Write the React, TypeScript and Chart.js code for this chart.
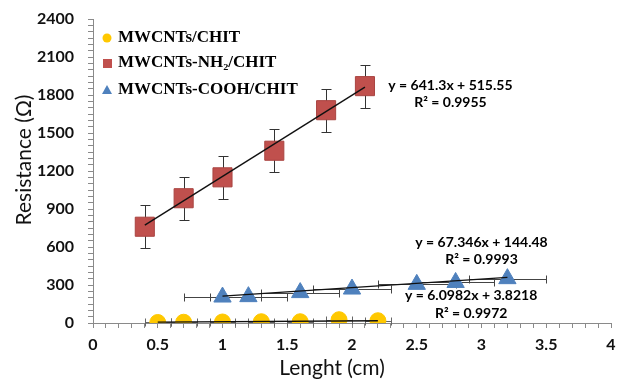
import React, { useEffect, useRef } from 'react';
import { Chart, registerables } from 'chart.js';

Chart.register(...registerables);

// ---- data ----
const seriesNames = ['MWCNTs/CHIT', 'MWCNTs-NH₂/CHIT', 'MWCNTs-COOH/CHIT'];

const chitX = [0.5, 0.7, 1.0, 1.3, 1.6, 1.9, 2.2];
const chitY = [4, 6, 8, 10, 10, 26, 18];
const chitXErr = [0.1, 0.1, 0.1, 0.1, 0.1, 0.1, 0.1];

const nh2X = [0.4, 0.7, 1.0, 1.4, 1.8, 2.1];
const nh2Y = [760, 985, 1150, 1360, 1680, 1870];
const nh2YErr = [170, 170, 170, 170, 170, 170];

const coohX = [1.0, 1.2, 1.6, 2.0, 2.5, 2.8, 3.2];
const coohY = [205, 208, 240, 268, 305, 320, 350];
const coohXErr = [0.3, 0.3, 0.3, 0.3, 0.3, 0.3, 0.3];

const trendSlope = [6.0982, 641.3, 67.346];
const trendIntercept = [3.8218, 515.55, 144.48];
const eqTexts = ['y = 6.0982x + 3.8218', 'y = 641.3x + 515.55', 'y = 67.346x + 144.48'];
const r2Texts = ['R² = 0.9972', 'R² = 0.9955', 'R² = 0.9993'];

const yTickLabels = ['0', '300', '600', '900', '1200', '1500', '1800', '2100', '2400'];
const xTickLabels = ['0', '0.5', '1', '1.5', '2', '2.5', '3', '3.5', '4'];

const colors = ['#FFC800', '#C0504D', '#4F81BD'];

export default function App() {
  const ref = useRef<HTMLCanvasElement | null>(null);

  useEffect(() => {
    if (!ref.current) return;

    const errPlugin = {
      id: 'errbars',
      afterLayout(chart: any) {
        const ca = chart.chartArea;
        const x = chart.scales.x;
        const right = chart.width - 8;
        ca.right = right;
        ca.width = ca.right - ca.left;
        x.right = right;
        x.width = x.right - x.left;
        x.configure();
      },
      beforeDatasetsDraw(chart: any) {
        const { ctx, scales } = chart;
        const x = scales.x, y = scales.y;
        ctx.save();
        ctx.lineWidth = 1;
        // NH2 vertical error bars
        ctx.strokeStyle = '#333';
        nh2X.forEach((xv, i) => {
          const px = Math.round(x.getPixelForValue(xv)) + 0.5;
          const t = Math.round(y.getPixelForValue(nh2Y[i] + nh2YErr[i])) + 0.5;
          const b = Math.round(y.getPixelForValue(nh2Y[i] - nh2YErr[i])) + 0.5;
          ctx.beginPath();
          ctx.moveTo(px, t); ctx.lineTo(px, b);
          ctx.moveTo(px - 5, t); ctx.lineTo(px + 5, t);
          ctx.moveTo(px - 5, b); ctx.lineTo(px + 5, b);
          ctx.stroke();
        });
        // COOH horizontal error bars
        ctx.strokeStyle = '#444';
        coohX.forEach((xv, i) => {
          const py = Math.round(y.getPixelForValue(coohY[i])) + 0.5;
          const l = Math.round(x.getPixelForValue(xv - coohXErr[i])) + 0.5;
          const r = Math.round(x.getPixelForValue(xv + coohXErr[i])) + 0.5;
          ctx.beginPath();
          ctx.moveTo(l, py); ctx.lineTo(r, py);
          ctx.moveTo(l, py - 4); ctx.lineTo(l, py + 4);
          ctx.moveTo(r, py - 4); ctx.lineTo(r, py + 4);
          ctx.stroke();
        });
        // CHIT horizontal error bars
        ctx.strokeStyle = '#666';
        chitX.forEach((xv, i) => {
          const py = Math.round(y.getPixelForValue(chitY[i])) + 0.5;
          const l = Math.round(x.getPixelForValue(xv - chitXErr[i])) + 0.5;
          const r = Math.round(x.getPixelForValue(xv + chitXErr[i])) + 0.5;
          ctx.beginPath();
          ctx.moveTo(l, py); ctx.lineTo(r, py);
          ctx.moveTo(l, py - 4); ctx.lineTo(l, py + 4);
          ctx.moveTo(r, py - 4); ctx.lineTo(r, py + 4);
          ctx.stroke();
        });
        ctx.restore();
      },
      afterDatasetsDraw(chart: any) {
        const { ctx, scales } = chart;
        const x = scales.x, y = scales.y;
        const xs = [chitX, nh2X, coohX];
        ctx.save();
        ctx.strokeStyle = '#111';
        ctx.lineWidth = 1.4;
        xs.forEach((arr, k) => {
          const x0 = Math.min(...arr), x1 = Math.max(...arr);
          ctx.beginPath();
          ctx.moveTo(x.getPixelForValue(x0), y.getPixelForValue(trendSlope[k] * x0 + trendIntercept[k]));
          ctx.lineTo(x.getPixelForValue(x1), y.getPixelForValue(trendSlope[k] * x1 + trendIntercept[k]));
          ctx.stroke();
        });
        ctx.restore();
      },
      afterDraw(chart: any) {
        const { ctx, scales, chartArea } = chart;
        const x = scales.x, y = scales.y;
        ctx.save();
        // equation labels
        const eqPos = [[2.92, 221, 79], [2.76, 1879, 1737], [3.0, 639, 505]];
        ctx.fillStyle = '#000';
        ctx.font = 'bold 14px Lato';
        ctx.textAlign = 'center';
        ctx.textBaseline = 'middle';
        eqPos.forEach((p, k) => {
          const px = x.getPixelForValue(p[0]);
          ctx.fillText(eqTexts[k], px, y.getPixelForValue(p[1]));
          ctx.fillText(r2Texts[k], px, y.getPixelForValue(p[2]));
        });
        // legend
        const lx = chartArea.left + 14;
        const rows = [38, 63, 90];
        ctx.textAlign = 'left';
        ctx.font = 'bold 17px "Liberation Serif"';
        rows.forEach((ry, k) => {
          ctx.fillStyle = colors[k];
          if (k === 0) {
            ctx.beginPath(); ctx.arc(lx, ry, 4.5, 0, Math.PI * 2); ctx.fill();
          } else if (k === 1) {
            ctx.fillRect(lx - 4, ry - 4, 9, 9);
          } else {
            ctx.beginPath();
            ctx.moveTo(lx, ry - 5); ctx.lineTo(lx + 5, ry + 4); ctx.lineTo(lx - 5, ry + 4);
            ctx.closePath(); ctx.fill();
          }
          ctx.fillStyle = '#000';
          ctx.fillText(seriesNames[k], lx + 11, ry);
        });
        // axis titles
        ctx.fillStyle = '#111';
        ctx.font = '21px Lato';
        ctx.textAlign = 'center';
        ctx.fillText('Lenght (cm)', 332, 368);
        ctx.translate(24, 160);
        ctx.rotate(-Math.PI / 2);
        ctx.fillText('Resistance (Ω)', 0, 0);
        ctx.restore();
      },
    };

    const chart = new Chart(ref.current, {
      type: 'scatter',
      data: {
        datasets: [
          {
            label: seriesNames[0],
            data: chitX.map((v, i) => ({ x: v, y: chitY[i] })),
            pointStyle: 'circle',
            pointRadius: 8,
            backgroundColor: colors[0],
            borderColor: colors[0],
          },
          {
            label: seriesNames[1],
            data: nh2X.map((v, i) => ({ x: v, y: nh2Y[i] })),
            pointStyle: 'rect',
            pointRadius: 13.5,
            backgroundColor: colors[1],
            borderColor: '#A94441',
            borderWidth: 1,
          },
          {
            label: seriesNames[2],
            data: coohX.map((v, i) => ({ x: v, y: coohY[i] })),
            pointStyle: 'triangle',
            pointRadius: 10,
            backgroundColor: colors[2],
            borderColor: colors[2],
          },
        ],
      },
      options: {
        responsive: false,
        animation: false,
        layout: { padding: { left: 0, right: 8, top: 19, bottom: 0 } },
        plugins: { legend: { display: false }, tooltip: { enabled: false } },
        scales: {
          x: {
            type: 'linear',
            min: 0,
            max: 4,
            afterFit: (s: any) => { s.height = 61; s.paddingLeft = 0; s.paddingRight = 0; },
            ticks: {
              stepSize: 0.1,
              autoSkip: false,
              maxRotation: 0,
              minRotation: 0,
              padding: 7,
              color: '#111',
              font: { family: 'Lato', size: 16, weight: 'bold' },
              callback: (v: any) => {
                const r = Math.round(Number(v) * 10);
                return r % 5 === 0 ? xTickLabels[r / 5] : '';
              },
            },
            grid: { drawOnChartArea: false, drawTicks: true, tickLength: 5, color: '#8a8a8a' },
            border: { color: '#8a8a8a', width: 1 },
          },
          y: {
            type: 'linear',
            min: 0,
            max: 2400,
            afterFit: (s: any) => { s.width = 93; s.paddingTop = 0; s.paddingBottom = 0; },
            ticks: {
              stepSize: 50,
              autoSkip: false,
              padding: 14,
              color: '#111',
              font: { family: 'Lato', size: 16, weight: 'bold' },
              callback: (v: any) => {
                const n = Math.round(Number(v));
                return n % 300 === 0 ? yTickLabels[n / 300] : '';
              },
            },
            grid: { drawOnChartArea: false, drawTicks: true, tickLength: 5, color: '#8a8a8a' },
            border: { color: '#8a8a8a', width: 1 },
          },
        },
      },
      plugins: [errPlugin],
    } as any);

    return () => chart.destroy();
  }, []);

  return (
    <div style={{ position: 'fixed', left: 0, top: 0, width: 619, height: 384, background: '#fff' }}>
      <canvas ref={ref} width={619} height={384} style={{ width: 619, height: 384 }} />
    </div>
  );
}
